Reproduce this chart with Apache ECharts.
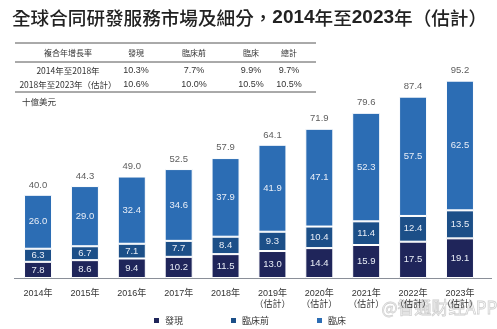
<!DOCTYPE html>
<html>
<head>
<meta charset="utf-8">
<script src="https://cdn.jsdelivr.net/npm/echarts@6/dist/echarts.min.js"></script>
<style>
  html, body { margin: 0; padding: 0; background: #fff; }
  #chart { width: 497px; height: 329px; }
</style>
</head>
<body>
<div id="chart"></div>
<script>
// Global contract R&D services market by segment, 2014-2023E (US$ billion)
const categories = ['2014年', '2015年', '2016年', '2017年', '2018年',
  '2019年\n（估計）', '2020年\n（估計）', '2021年\n（估計）', '2022年\n（估計）', '2023年\n（估計）'];
const discovery = [7.8, 8.6, 9.4, 10.2, 11.5, 13.0, 14.4, 15.9, 17.5, 19.1];
const preclinical = [6.3, 6.7, 7.1, 7.7, 8.4, 9.3, 10.4, 11.4, 12.4, 13.5];
const clinical = [26.0, 29.0, 32.4, 34.6, 37.9, 41.9, 47.1, 52.3, 57.5, 62.5];
const totals = [40.0, 44.3, 49.0, 52.5, 57.9, 64.1, 71.9, 79.6, 87.4, 95.2];

// CAGR table
const cagrHeader = ['複合年增長率', '發現', '臨床前', '臨床', '總計'];
const cagrRows = [
  ['2014年至2018年', '10.3%', '7.7%', '9.9%', '9.7%'],
  ['2018年至2023年（估計）', '10.6%', '10.0%', '10.5%', '10.5%']
];

const seriesNames = ['發現', '臨床前', '臨床'];
const colors = ['#1f255a', '#1c4f88', '#2c6db4'];

const CJK = '"Noto Sans CJK TC", "Noto Sans CJK SC", sans-serif';
const LAT = '"Liberation Sans", Arial, sans-serif';

const colX = [68, 136, 194, 251, 289];
const tableGraphics = [];
[43, 62, 92].forEach((y) => {
  tableGraphics.push({
    type: 'line', shape: { x1: 15, y1: y, x2: 316, y2: y },
    style: { stroke: '#555', lineWidth: 1 }, silent: true
  });
});
cagrHeader.forEach((t, i) => {
  tableGraphics.push({
    type: 'text', x: colX[i], y: 53,
    style: { text: t, font: '8px ' + CJK, fill: '#333', align: 'center', verticalAlign: 'middle' }
  });
});
cagrRows.forEach((row, r) => {
  row.forEach((t, i) => {
    tableGraphics.push({
      type: 'text', x: colX[i], y: r === 0 ? 71 : 85,
      style: {
        text: t,
        font: (i === 0 ? '8.5px ' + CJK : '9px ' + LAT),
        fill: '#333', align: 'center', verticalAlign: 'middle'
      }
    });
  });
});

const barStyle = (c) => ({ color: c, borderColor: '#fff', borderWidth: 1 });
const innerLabel = {
  show: true, position: 'inside', color: '#e9eef7',
  fontSize: 9.5, fontFamily: LAT,
  formatter: (p) => p.value.toFixed(1)
};

const chart = echarts.init(document.getElementById('chart'));
chart.setOption({
  animation: false,
  backgroundColor: '#fff',
  title: {
    text: '{c|全球合同研發服務市場及細分，}{b|2014}{c|年至}{b|2023}{c|年（估計）}',
    left: 12, top: 8, padding: 0,
    textStyle: {
      rich: {
        c: { fontFamily: CJK, fontSize: 18.6, fontWeight: 500, color: '#222' },
        b: { fontFamily: LAT, fontSize: 19, fontWeight: 'bold', color: '#222' }
      }
    }
  },
  legend: {
    left: 147, top: 311,
    itemWidth: 7, itemHeight: 7, itemGap: 46,
    icon: 'rect',
    textStyle: { fontFamily: CJK, fontSize: 9, color: '#333' },
    data: seriesNames
  },
  grid: { left: 14.6, right: 13.6, top: 70.5, bottom: 51, containLabel: false },
  xAxis: {
    type: 'category', data: categories,
    axisLine: { show: false }, axisTick: { show: false },
    axisLabel: {
      margin: 10, fontSize: 9, lineHeight: 11, color: '#333',
      fontFamily: '"Liberation Sans", "Noto Sans CJK TC", sans-serif',
      verticalAlign: 'top'
    }
  },
  yAxis: { type: 'value', min: 0, max: 100, show: false, splitLine: { show: false } },
  graphic: [
    {
      type: 'line', shape: { x1: 14, y1: 278.5, x2: 492, y2: 278.5 },
      style: { stroke: '#8a8f98', lineWidth: 1 }, silent: true
    },
    {
      type: 'text', left: 22, top: 98,
      style: { text: '十億美元', font: '8.5px ' + CJK, fill: '#333' }
    },
    {
      type: 'text', left: 381, top: 299,
      style: { text: '@智通财经APP', font: '17px ' + CJK, fill: 'rgba(255,255,255,0.2)',
        stroke: 'rgba(160,160,160,0.55)', lineWidth: 0.8 }
    },
    ...tableGraphics
  ],
  series: [
    {
      name: seriesNames[0], type: 'bar', stack: 'total', barWidth: 28,
      data: discovery, itemStyle: barStyle(colors[0]), label: innerLabel
    },
    {
      name: seriesNames[1], type: 'bar', stack: 'total', barWidth: 28,
      data: preclinical, itemStyle: barStyle(colors[1]), label: innerLabel
    },
    {
      name: seriesNames[2], type: 'bar', stack: 'total', barWidth: 28,
      data: clinical, itemStyle: barStyle(colors[2]), label: innerLabel
    },
    {
      name: '總計', type: 'scatter', data: totals, symbolSize: 0,
      label: {
        show: true, position: 'top', distance: 5, color: '#333',
        fontSize: 9.5, fontFamily: LAT,
        formatter: (p) => p.value.toFixed(1)
      },
      silent: true
    }
  ]
});
</script>
</body>
</html>
